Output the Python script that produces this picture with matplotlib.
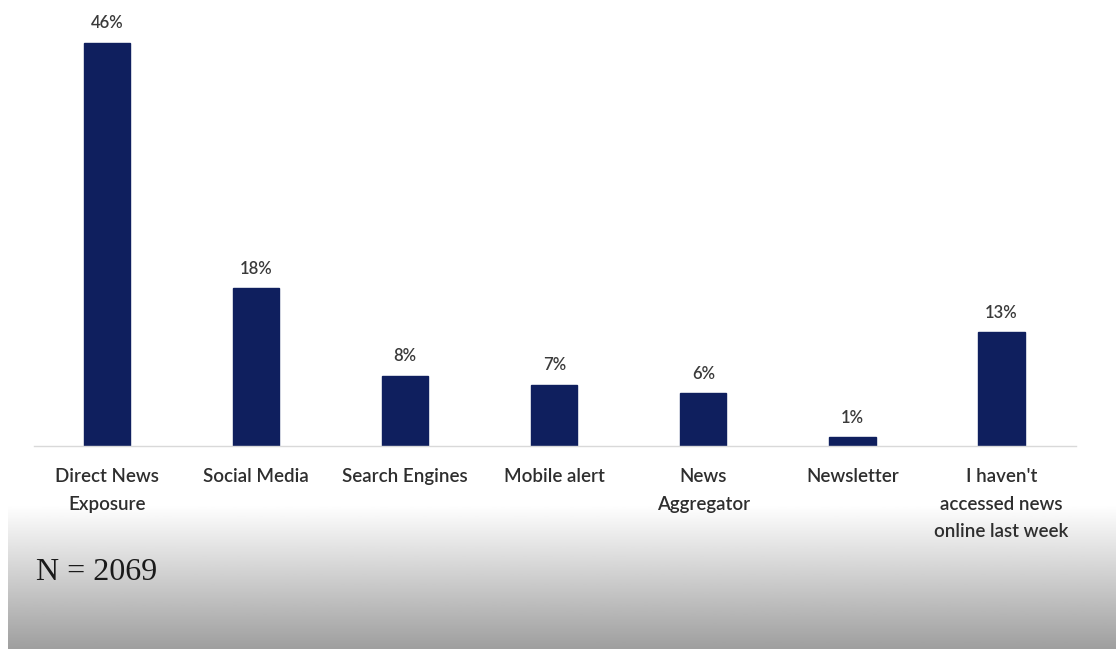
import numpy as np
import matplotlib
matplotlib.use('agg')
import matplotlib.pyplot as plt

# Survey data: share of respondents by main route to online news
categories = [
    "Direct News\nExposure",
    "Social Media",
    "Search Engines",
    "Mobile alert",
    "News\nAggregator",
    "Newsletter",
    "I haven't\naccessed news\nonline last week",
]
shares = [46, 18, 8, 7, 6, 1, 13]
sample_size = 2069

W, H = 1116, 649
fig = plt.figure(figsize=(W / 100, H / 100), dpi=100)
fig.patch.set_facecolor("white")

# grey fade along the bottom of the slide (white at top, darker below)
bg = fig.add_axes([8 / W, 0, 1 - 8 / W, (H - 505) / H], zorder=0)
grad = np.linspace(1, 0, 256).reshape(-1, 1)
bg.imshow(grad, aspect="auto", cmap="gray", vmin=-1.65, vmax=1.0,
          extent=[0, 1, 0, 1], origin="upper")
bg.axis("off")

ax = fig.add_axes([34 / W, 1 - 446 / H, (1076 - 34) / W, 446 / H], zorder=1)
ax.patch.set_alpha(0)
x = np.arange(len(categories))
bars = ax.bar(x, shares, width=0.31, color="#0f1f5e", edgecolor="#0f1f5e")
ax.set_xlim(-0.49, 6.5)
ax.set_ylim(0, 50.9)

for xi, v in zip(x, shares):
    ax.annotate(f"{v}%", (xi, v), xytext=(0, 14), textcoords="offset points",
                ha="center", va="center", fontsize=12, family="Lato",
                weight="semibold", color="#3a3a3a")

for s in ["top", "right", "left"]:
    ax.spines[s].set_visible(False)
ax.spines["bottom"].set_color("#d9d9d9")
ax.spines["bottom"].set_linewidth(1.0)
ax.set_yticks([])
ax.set_xticks(x)
ax.set_xticklabels(categories, fontsize=13.5, family="Lato", weight="semibold",
                   color="#2e2e2e", linespacing=1.75)
ax.tick_params(axis="x", length=0, pad=16)

fig.text(36 / W, 1 - 573 / H, f"N = {sample_size}", fontsize=23,
         family="Liberation Serif", color="#1a1a1a", va="center", ha="left")

fig.savefig("out.png", dpi=100)
